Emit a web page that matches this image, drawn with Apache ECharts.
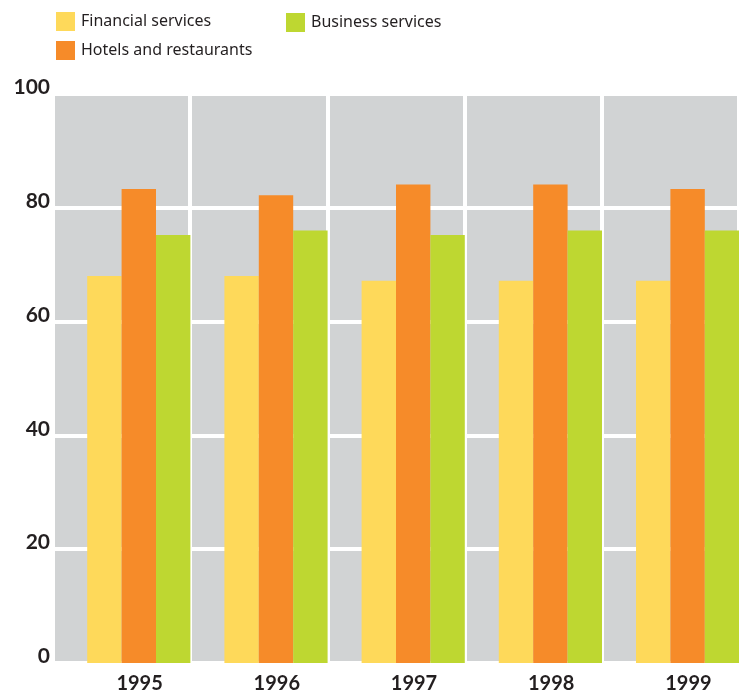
<!DOCTYPE html>
<html>
<head>
<meta charset="utf-8">
<script src="https://cdn.jsdelivr.net/npm/echarts@6/dist/echarts.min.js"></script>
<style>
  html, body { margin: 0; padding: 0; background: #fff; }
  #chart { width: 739px; height: 694px; }
</style>
</head>
<body>
<div id="chart"></div>
<script>
const years = ['1995', '1996', '1997', '1998', '1999'];
const financial = [68, 68, 67.2, 67.2, 67.2];
const hotels = [83.3, 82.2, 84.1, 84.1, 83.3];
const business = [75.2, 76, 75.2, 76, 76];
const yTicks = [0, 20, 40, 60, 80, 100];

const textColor = '#231f20';
const chart = echarts.init(document.getElementById('chart'));

// an empty first slot pushes the three real bars to the right of each panel
const bar = (name, data, color) => ({
    name: name,
    type: 'bar',
    data: data,
    barWidth: 34.4,
    barGap: 0,
    itemStyle: { color: color },
    emphasis: { disabled: true }
});

const legendText = { fontFamily: 'Noto Sans', fontSize: 16, color: textColor, padding: [0, 0, 0, 1] };

chart.setOption({
    animation: false,
    legend: [
        {
            orient: 'vertical', left: 56, top: 12, padding: 0,
            itemWidth: 19, itemHeight: 19, itemGap: 10, icon: 'rect',
            data: ['Financial services', 'Hotels and restaurants'],
            textStyle: legendText
        },
        {
            orient: 'vertical', left: 286, top: 13, padding: 0,
            itemWidth: 19, itemHeight: 19, icon: 'rect',
            data: ['Business services'],
            textStyle: legendText
        }
    ],
    grid: {
        left: 53, right: -2, top: 94, bottom: 28,
        show: true, backgroundColor: '#d1d3d4', borderWidth: 0
    },
    xAxis: {
        type: 'category',
        data: years,
        axisLine: { show: false },
        axisTick: { show: false },
        splitLine: { show: true, lineStyle: { color: '#fff', width: 4 } },
        axisLabel: {
            margin: 11,
            padding: [0, 0, 0, 36],
            fontFamily: 'Lato', fontWeight: 'bold', fontSize: 20, color: textColor
        }
    },
    yAxis: {
        type: 'value',
        min: yTicks[0], max: yTicks[yTicks.length - 1], interval: 20,
        axisLine: { show: false },
        axisTick: { show: false },
        splitLine: { lineStyle: { color: '#fff', width: 4 } },
        axisLabel: {
            margin: 3,
            verticalAlign: 'bottom',
            lineHeight: 13,
            fontFamily: 'Lato', fontWeight: 'bold', fontSize: 21, color: textColor
        }
    },
    series: [
        bar('spacer', years.map(() => '-'), 'transparent'),
        bar('Financial services', financial, '#fed95a'),
        bar('Hotels and restaurants', hotels, '#f68b29'),
        bar('Business services', business, '#bed731')
    ]
});
</script>
</body>
</html>
